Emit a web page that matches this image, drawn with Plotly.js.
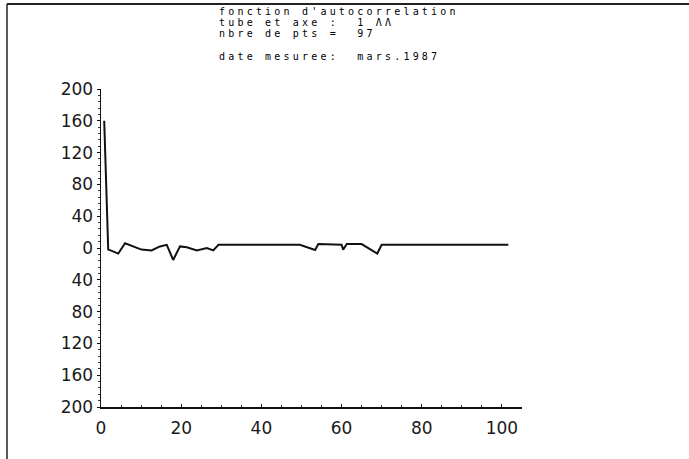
<!DOCTYPE html>
<html>
<head>
<meta charset="utf-8">
<script src="https://cdn.plot.ly/plotly-3.0.1.min.js"></script>
<style>
  html, body { margin: 0; padding: 0; background: #fff; }
  #chart { width: 689px; height: 459px; }
  .annotation-text { letter-spacing: 3.2px; }
</style>
</head>
<body>
<div id="chart"></div>
<script>
// ---- data ----
const lags = [0.8, 1.8, 2.4, 4.3, 6.0, 8.1, 10.1, 12.6, 14.7, 16.4, 18.0, 19.7, 21.4, 23.9, 26.4, 28.0, 29.3, 49.6, 53.4, 54.2, 60.0, 60.4, 61.3, 65.0, 68.9, 70.0, 101.6];
const autocorr = [160, -2, -3, -7, 6, 2, -2, -3, 2, 4, -15, 2, 1, -3, 0, -3, 4, 4, -2.5, 5, 4, -2, 5, 5, -7, 4, 4];

const yTickVals = [-200, -160, -120, -80, -40, 0, 40, 80, 120, 160, 200];
const yTickText = ["200", "160", "120", "80", "40", "0", "40", "80", "120", "160", "200"];
const xTickVals = [0, 20, 40, 60, 80, 100];
const xTickText = ["0", "20", "40", "60", "80", "100"];

const headerLines = ["fonction d'autocorrelation", "tube et axe :  1 ΛΛ", "nbre de pts =  97"];
const dateLine = "date mesuree:  mars.1987";

const trace = {
  x: lags, y: autocorr, type: 'scatter', mode: 'lines',
  line: { color: '#111', width: 2 }, hoverinfo: 'skip', showlegend: false
};

const textFont = { family: 'DejaVu Sans Mono', size: 10, color: '#000' };
const headerY = [1.2437, 1.2091, 1.1745];
const annotations = headerLines.map((t, i) => ({
  text: t, xref: 'paper', yref: 'paper', x: 0.275, y: headerY[i],
  xanchor: 'left', yanchor: 'middle', showarrow: false, font: textFont
}));
annotations.push({
  text: dateLine, xref: 'paper', yref: 'paper', x: 0.275, y: 1.101,
  xanchor: 'left', yanchor: 'middle', showarrow: false, font: textFont
});

const layout = {
  width: 689, height: 459,
  margin: { l: 101, r: 167, t: 89, b: 52 },
  paper_bgcolor: '#fff', plot_bgcolor: '#fff',
  font: { family: 'DejaVu Sans', size: 17, color: '#1a1a1a' },
  xaxis: {
    range: [0, 105], showgrid: false, zeroline: false,
    showline: true, linecolor: '#111', linewidth: 1.5,
    tickmode: 'array', tickvals: xTickVals, ticktext: xTickText,
    ticks: 'inside', ticklen: 3, tickcolor: '#111',
    minor: { dtick: 5, ticks: 'inside', ticklen: 2, tickcolor: '#333' },
    ticklabelstandoff: 5,
    tickfont: { family: 'DejaVu Sans', size: 17, color: '#1a1a1a' }
  },
  yaxis: {
    range: [-200, 200], showgrid: false, zeroline: false,
    showline: true, linecolor: '#111', linewidth: 1.5,
    tickmode: 'array', tickvals: yTickVals, ticktext: yTickText,
    ticks: 'outside', ticklen: 3, tickcolor: '#111',
    minor: { dtick: 8, ticks: 'outside', ticklen: 2, tickcolor: '#333' },
    ticklabelstandoff: 0,
    tickfont: { family: 'DejaVu Sans', size: 17, color: '#1a1a1a' }
  },
  annotations: annotations,
  shapes: [
    { type: 'line', xref: 'paper', yref: 'paper', x0: -0.2233, x1: 1.40, y0: 1.2673, y1: 1.2673,
      line: { color: '#222', width: 2 } },
    { type: 'line', xref: 'paper', yref: 'paper', x0: -0.2233, x1: -0.2233, y0: 1.2673, y1: -0.17,
      line: { color: '#222', width: 1.5 } }
  ]
};

Plotly.newPlot('chart', [trace], layout, { displayModeBar: false, staticPlot: true });
</script>
</body>
</html>
